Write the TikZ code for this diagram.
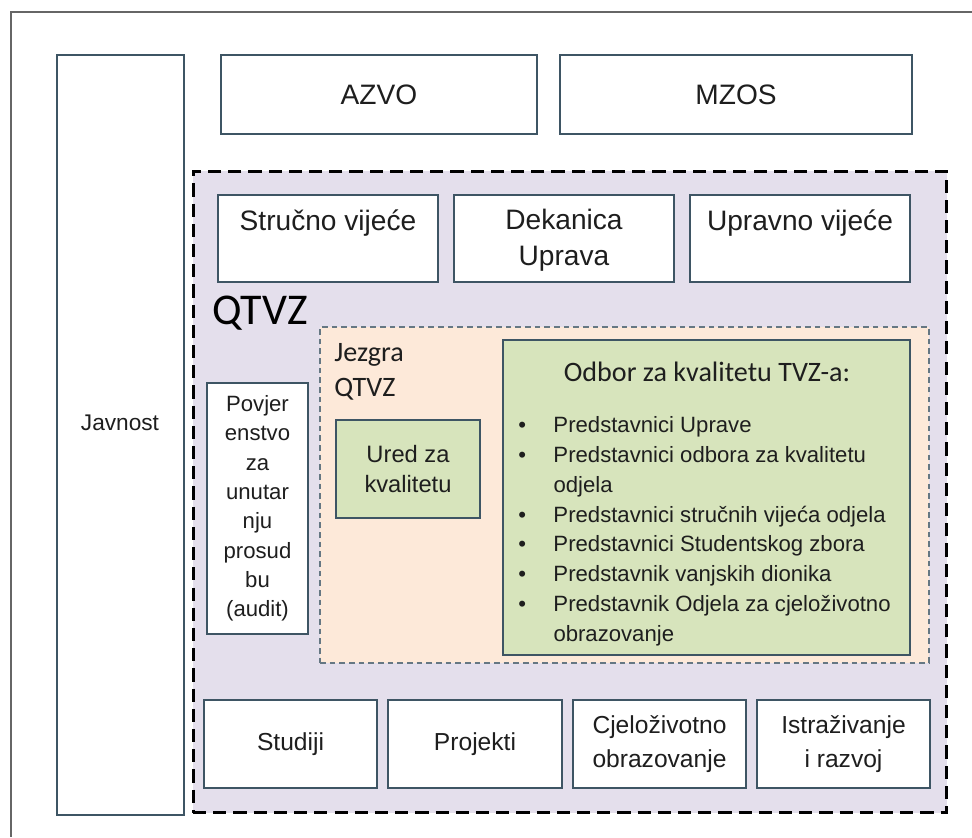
\documentclass[tikz,border=0pt]{standalone}
\usepackage{fontspec}
\setmainfont{Liberation Sans}
\newfontfamily\calibri{Carlito}
\definecolor{qtvzfill}{HTML}{E4DFEC}
\definecolor{jezgrafill}{HTML}{FDE9D9}
\definecolor{odborfill}{HTML}{D7E4BC}
\definecolor{boxline}{HTML}{3E5564}
\definecolor{inkgray}{HTML}{1E1E1E}
\newcommand{\odbitem}[1]{\makebox[20pt][l]{\textbullet}#1}
\newcommand{\odbcont}[1]{\hspace*{20pt}#1}
\tikzset{
	box/.style={draw=boxline, line width=1.1pt, fill=white, inner sep=0pt, align=center, text=inkgray, font=\fontsize{16}{20.4}\selectfont},
	greenbox/.style={box, fill=odborfill},
	smallbox/.style={box, minimum width=3.46cm, minimum height=1.76cm, font=\fontsize{14}{19.8}\selectfont},
	topbox/.style={box, minimum width=4.4cm, minimum height=1.74cm},
	qtvzframe/.style={draw=black, line width=1.7pt, dash pattern=on 7.5pt off 4pt, fill=qtvzfill, inner sep=0pt},
	jezgraframe/.style={draw=boxline!80, line width=1.2pt, dash pattern=on 3.2pt off 2.3pt, fill=jezgrafill, inner sep=0pt},
	boxtext/.style={inner sep=0pt, align=center, text=inkgray, font=\fontsize{16}{20.4}\selectfont},
}
\begin{document}
\begin{tikzpicture}[x=0.02cm,y=-0.02cm]
			\useasboundingbox (0,0) rectangle (972,837);
			\coordinate (frametr) at (972,12);
			\coordinate (frametl) at (11,12);
			\coordinate (framebl) at (11,837);
			\draw[line width=0.8pt, black!60] (frametr) -- (frametl) -- (framebl);
			% outside
			\node[box, minimum width=2.54cm, minimum height=15.2cm] (javnost) at (120.5,435) {};
			\node[boxtext, font=\fontsize{12.9}{16}\selectfont] (javnosttxt) at (120,423) {Javnost};
			\node[box, minimum width=6.32cm, minimum height=1.58cm] (azvo) at (379,94.5) {AZVO};
			\node[box, minimum width=7.04cm, minimum height=1.58cm] (mzos) at (736,94.5) {MZOS};
			% QTVZ
			\node[qtvzframe, minimum width=15.08cm, minimum height=12.84cm] (qtvz) at (570,492) {};
			\node[topbox] (strucno) at (328,238.5) {};
			\node[topbox] (dekanica) at (564,238.5) {};
			\node[topbox] (upravno) at (800,238.5) {};
			\node[boxtext, anchor=north] (strucnotxt) at ([yshift=-0.3cm]strucno.north) {Stručno vijeće};
			\node[boxtext, anchor=north] (dekanicatxt) at ([yshift=-0.3cm]dekanica.north) {Dekanica\\Uprava};
			\node[boxtext, anchor=north] (upravnotxt) at ([yshift=-0.3cm]upravno.north) {Upravno vijeće};
			\node[inner sep=0pt, anchor=base west, text=black, font=\calibri\fontsize{25}{28}\selectfont] (qtvztxt) at (212,325) {QTVZ};
			% jezgra
			\node[jezgraframe, minimum width=12.18cm, minimum height=6.72cm] (jezgra) at (624.5,495) {};
			\node[inner sep=0pt, anchor=north west, align=left, text=inkgray, font=\calibri\fontsize{16}{19.8}\selectfont] (jezgratxt) at (334,343) {Jezgra\\QTVZ};
			\node[box, minimum width=2.02cm, minimum height=5.02cm, font=\fontsize{12.6}{16.7}\selectfont] (povjer) at (257.5,508.5) {Povjer\\enstvo\\za\\unutar\\nju\\prosud\\bu\\(audit)};
			\node[greenbox, minimum width=2.88cm, minimum height=1.96cm, font=\fontsize{13.5}{17.6}\selectfont] (ured) at (408,469) {Ured za\\kvalitetu};
			\node[greenbox, minimum width=8.14cm, minimum height=6.3cm] (odbor) at (706.5,497.5) {};
			\node[boxtext, font=\calibri\fontsize{16}{19}\selectfont] (odbortitle) at (707,372) {Odbor za kvalitetu TVZ-a:};
			\node[inner sep=0pt, anchor=north west, align=left, text=inkgray, font=\fontsize{12.6}{17}\selectfont] (odborlist) at (518,416) {%
				\odbitem{Predstavnici Uprave}\\
				\odbitem{Predstavnici odbora za kvalitetu}\\
				\odbcont{odjela}\\
				\odbitem{Predstavnici stručnih vijeća odjela}\\
				\odbitem{Predstavnici Studentskog zbora}\\
				\odbitem{Predstavnik vanjskih dionika}\\
				\odbitem{Predstavnik Odjela za cjeloživotno}\\
				\odbcont{obrazovanje}};
			% bottom row
			\node[smallbox] (studiji) at (290.5,744) {Studiji};
			\node[smallbox, minimum width=3.48cm] (projekti) at (475,744) {Projekti};
			\node[smallbox] (cjelo) at (659.5,744) {Cjeloživotno\\obrazovanje};
			\node[smallbox] (istrazivanje) at (843.5,744) {Istraživanje\\i razvoj};
		\end{tikzpicture}
\end{document}
